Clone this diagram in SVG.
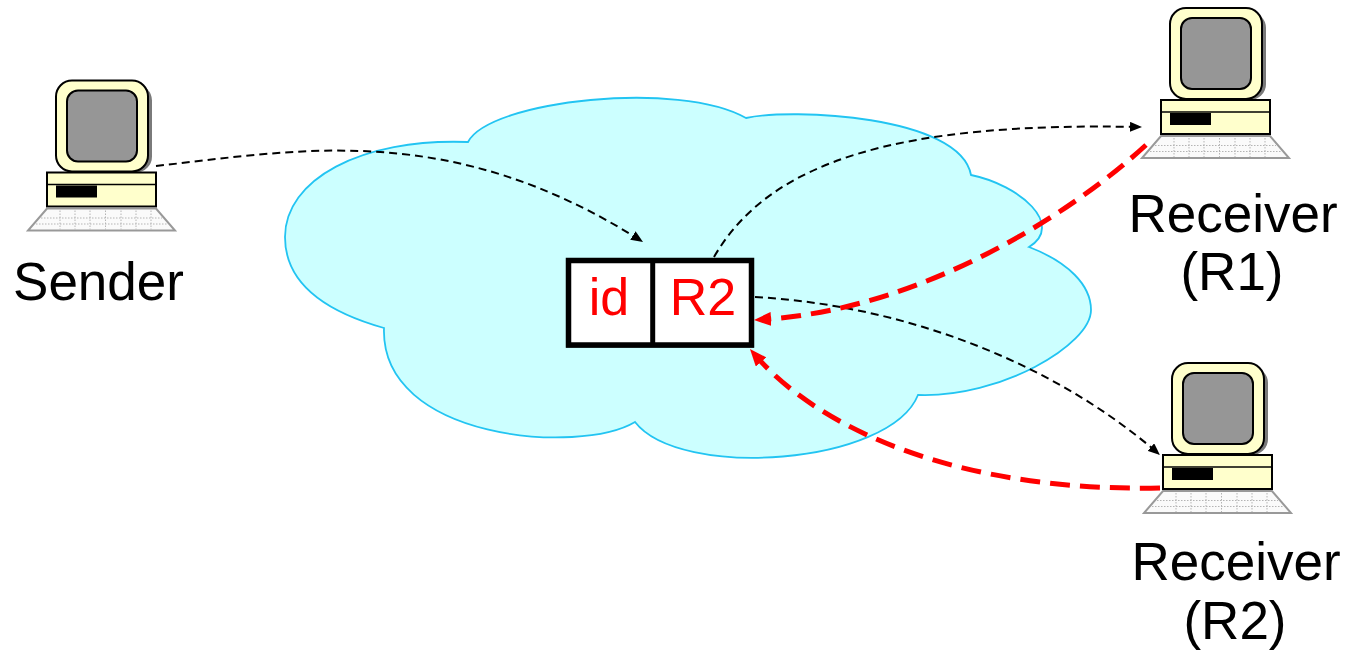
<svg xmlns="http://www.w3.org/2000/svg" xmlns:xlink="http://www.w3.org/1999/xlink" width="1346" height="652" viewBox="0 0 1346 652">
<style>
.lbl{font-family:"Liberation Sans",Arial,sans-serif;font-size:53px;fill:#000;text-anchor:middle}
.red{font-family:"Liberation Sans",Arial,sans-serif;font-size:52px;fill:#FF0000;text-anchor:middle}
.blk{fill:none;stroke:#000;stroke-width:2;stroke-dasharray:8 5}
.rd{fill:none;stroke:#FF0000;stroke-width:5;stroke-dasharray:20 10}
.beige{fill:#FFFFCC;stroke:#000;stroke-width:2}
.dot{stroke:#B4B4B4;stroke-width:1;stroke-dasharray:1.5 1.5}
</style>
<defs>
<marker id="ab" markerUnits="userSpaceOnUse" markerWidth="12" markerHeight="10" refX="9" refY="5" orient="auto">
<path d="M0,0 L12,5 L0,10 z" fill="#000"/>
</marker>
<marker id="ar" markerUnits="userSpaceOnUse" markerWidth="17" markerHeight="14" refX="9" refY="7" orient="auto">
<path d="M0,0 L17,7 L0,14 z" fill="#FF0000"/>
</marker>
<g id="pc">
<rect x="13" y="-88" width="92" height="88" rx="16" fill="#7A7A7A"/>
<rect x="9" y="-92" width="92" height="91" rx="16" class="beige"/>
<rect x="20" y="-82" width="70" height="71" rx="11" fill="#969696" stroke="#000" stroke-width="2"/>
<rect x="0" y="0" width="109" height="34" class="beige"/>
<line x1="0" y1="12" x2="109" y2="12" stroke="#000" stroke-width="1.5"/>
<rect x="9" y="13" width="41" height="12" fill="#000"/>
<polygon points="0,36 109,36 128,58 -19,58" fill="#FAFAFA" stroke="#999" stroke-width="2"/>
<g class="dot">
<line x1="-6" y1="45.5" x2="115" y2="45.5"/>
<line x1="-11" y1="51.5" x2="120" y2="51.5"/>
<line x1="13" y1="38" x2="13" y2="57"/>
<line x1="28" y1="38" x2="28" y2="57"/>
<line x1="43" y1="38" x2="43" y2="57"/>
<line x1="58.5" y1="38" x2="58.5" y2="57"/>
<line x1="74" y1="38" x2="74" y2="57"/>
<line x1="89" y1="38" x2="89" y2="57"/>
<line x1="104" y1="38" x2="104" y2="57"/>
</g>
</g>
</defs>
<rect width="1346" height="652" fill="#fff"/>
<g id="cloud">
<path d="M384,328 C320,310 285,280 285,237 C285,180 360,138 468,142 C490,100 680,80 746,118 C790,108 960,115 971,175 C1020,185 1065,225 1029,247 C1068,262 1091,285 1091,310 C1091,345 1000,398 918,395 C890,465 680,480 635,422 C580,455 380,440 384,328 Z" fill="#CCFFFF" stroke="#22C4F2" stroke-width="1.8"/>
</g>
<g id="packet">
<rect x="568.5" y="260.5" width="183" height="84.5" fill="#fff" stroke="#000" stroke-width="5.5"/>
<line x1="566" y1="346" x2="754" y2="346" stroke="#000" stroke-width="3"/>
<line x1="652.7" y1="259" x2="652.7" y2="347" stroke="#000" stroke-width="5"/>
<text x="609" y="315" class="red">id</text>
<text x="703" y="315" class="red">R2</text>
</g>
<g id="sender">
<use xlink:href="#pc" href="#pc" transform="translate(47,172.5)"/>
<text x="98.5" y="300" class="lbl">Sender</text>
</g>
<g id="receiver-r1">
<use xlink:href="#pc" href="#pc" transform="translate(1161,100)"/>
<text x="1233" y="232" class="lbl">Receiver</text>
<text x="1232" y="290" class="lbl">(R1)</text>
</g>
<g id="receiver-r2">
<use xlink:href="#pc" href="#pc" transform="translate(1163,455)"/>
<text x="1236" y="580" class="lbl">Receiver</text>
<text x="1235" y="639" class="lbl">(R2)</text>
</g>
<g id="connectors">
<path class="blk" d="M156,166 C300,150 450,120 640.5,240.4" marker-end="url(#ab)"/>
<path class="blk" d="M714,257 C770,160 900,122 1139,127" marker-end="url(#ab)"/>
<path class="blk" d="M755,297 C900,305 1050,360 1157.7,453" marker-end="url(#ab)"/>
<path class="rd" d="M1146,145 C1070,215 920,310 762,319.5" marker-end="url(#ar)"/>
<path class="rd" d="M1160,488 C960,492 820,430 755.2,355.1" marker-end="url(#ar)"/>
</g>
</svg>
